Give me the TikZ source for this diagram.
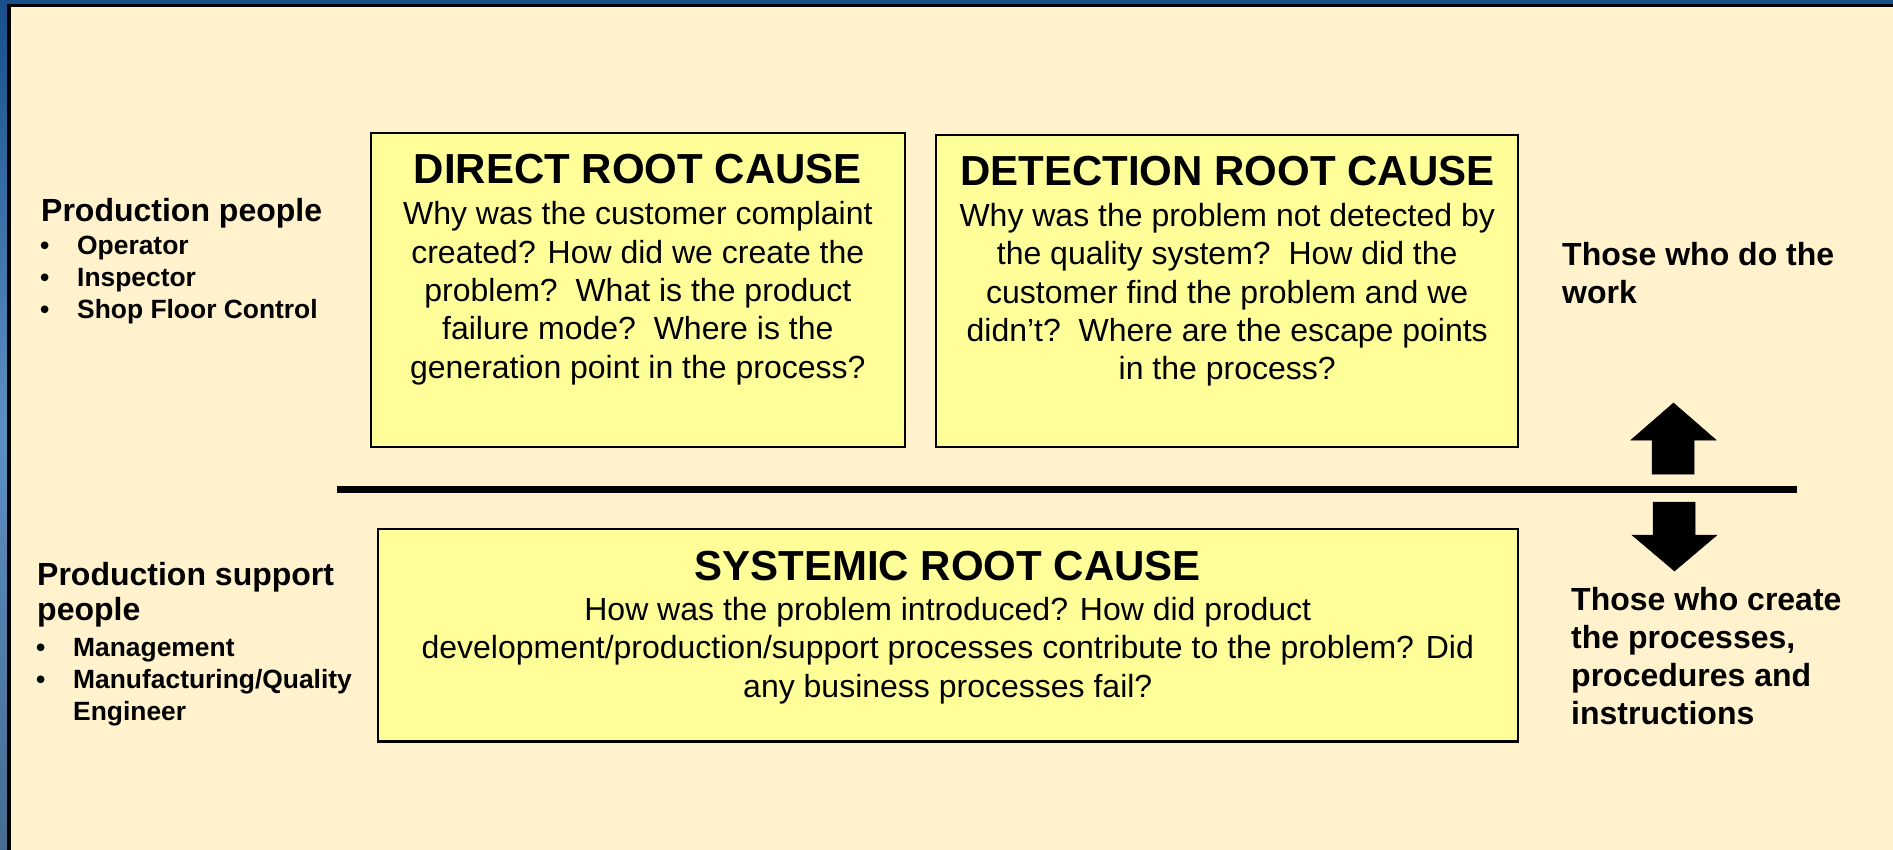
\documentclass[tikz,border=0pt]{standalone}
\usepackage{fontspec}
\setmainfont{Liberation Sans}
\definecolor{cream}{RGB}{255,242,204}
\definecolor{boxyellow}{RGB}{255,255,153}
\definecolor{frametop}{RGB}{24,78,138}
\definecolor{framemid}{RGB}{92,144,196}
\definecolor{framebot}{RGB}{70,108,146}
\tikzset{
  rcbox/.style={draw=black, line width=2.4pt, fill=boxyellow, inner sep=0pt},
  rctitle/.style={font=\bfseries\fontsize{42}{48}\selectfont, anchor=base, inner sep=0pt},
  rcbody/.style={font=\fontsize{32}{38.3}\selectfont, anchor=base, inner sep=0pt},
  biglabel/.style={font=\bfseries\fontsize{32}{37.8}\selectfont, anchor=base west, inner sep=0pt},
  listlabel/.style={font=\bfseries\fontsize{26.4}{32}\selectfont, anchor=base west, inner sep=0pt},
  blockarrow/.style={fill=black, draw=black, line width=0.5pt}
}
\newcommand{\bul}[1]{\makebox[#1][l]{\textbullet}}
\newcommand{\ctab}[1]{\begin{tabular}[t]{@{}c@{}}#1\end{tabular}}
\newcommand{\ltab}[1]{\begin{tabular}[t]{@{}l@{}}#1\end{tabular}}
\begin{document}
\begin{tikzpicture}[x=1pt, y=-1pt]
\useasboundingbox (0,0) rectangle (1893,850);
% frame background
\shade[top color=frametop, bottom color=framebot, middle color=framemid] (0,0) rectangle (1893,850);
\fill[cream] (9,5.5) rectangle (1905,860);
\draw[black, line width=3.5pt] (9,860) -- (9,5.5) -- (1905,5.5);

% boxes
\node[rcbox, minimum width=534pt, minimum height=314pt] (direct) at (637.8,290) {};
\node[rcbox, minimum width=582pt, minimum height=312pt] (detect) at (1227.2,291) {};
\node[rcbox, minimum width=1140pt, minimum height=212.5pt] (system) at (947.8,635.3) {};

% titles and bodies
\node[rctitle] (dtitle) at (637.8,183.5) {DIRECT ROOT CAUSE};
\node[rcbody] (dbody) at (637.8,225) {\ctab{Why was the customer complaint\\created? How did we create the\\problem?\ \ What is the product\\failure mode?\ \ Where is the\\generation point in the process?}};

\node[rctitle] (etitle) at (1227.2,185.5) {DETECTION ROOT CAUSE};
\node[rcbody] (ebody) at (1227.2,226.5) {\ctab{Why was the problem not detected by\\the quality system?\ \ How did the\\customer find the problem and we\\didn’t?\ \ Where are the escape points\\in the process?}};

\node[rctitle] (stitle) at (947.8,580.5) {SYSTEMIC ROOT CAUSE};
\node[rcbody] (sbody) at (947.8,620.5) {\ctab{How was the problem introduced? How did product\\development/production/support processes contribute to the problem? Did\\any business processes fail?}};

% left labels
\node[biglabel] (pp) at (41,222) {Production people};
\node[listlabel] (pplist) at (40,255) {\ltab{\bul{37pt}Operator\\\bul{37pt}Inspector\\\bul{37pt}Shop Floor Control}};
\node[biglabel, font=\bfseries\fontsize{32}{35.5}\selectfont] (ps) at (37,585) {\ltab{Production support\\people}};
\node[listlabel] (pslist) at (36,656) {\ltab{\bul{37pt}Management\\\bul{37pt}Manufacturing/Quality\\\hspace*{37pt}Engineer}};

% right labels
\node[biglabel] (work) at (1562,266) {\ltab{Those who do the\\work}};
\node[biglabel, font=\bfseries\fontsize{32}{38.3}\selectfont] (create) at (1571,610) {\ltab{Those who create\\the processes,\\procedures and\\instructions}};

% divider
\coordinate (divL) at (336.8,489.5);
\coordinate (divR) at (1797,489.5);
\draw[line width=6.5pt] (divL) -- (divR);

% block arrows
\fill[blockarrow] (1673.5,403) -- (1716,440) -- (1694,440) -- (1694,474) -- (1652,474) -- (1652,440) -- (1631,440) -- cycle;
\fill[blockarrow] (1674.5,571) -- (1717,535) -- (1695,535) -- (1695,502) -- (1653,502) -- (1653,535) -- (1632,535) -- cycle;
\end{tikzpicture}
\end{document}
